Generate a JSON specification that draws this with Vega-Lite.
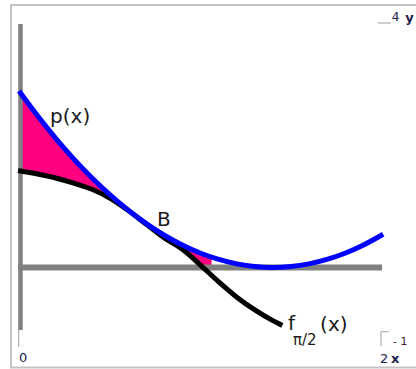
{
  "$schema": "https://vega.github.io/schema/vega-lite/v6.json",
  "width": 416,
  "height": 369,
  "autosize": "none",
  "padding": 0,
  "background": "white",
  "config": {"view": {"stroke": null}},
  "data": {"values": [{"note": "annotation"}]},
  "datasets": {
    "pdata": [
      {"x": 0.0, "p": 2.822}, {"x": 0.1, "p": 2.434}, {"x": 0.2, "p": 2.074}, {"x": 0.3, "p": 1.742},
      {"x": 0.4, "p": 1.44}, {"x": 0.5, "p": 1.166}, {"x": 0.6, "p": 0.922}, {"x": 0.7, "p": 0.706},
      {"x": 0.8, "p": 0.518}, {"x": 0.9, "p": 0.36}, {"x": 1.0, "p": 0.23}, {"x": 1.1, "p": 0.13},
      {"x": 1.2, "p": 0.058}, {"x": 1.3, "p": 0.0144}, {"x": 1.4, "p": 0.0}, {"x": 1.5, "p": 0.0144},
      {"x": 1.6, "p": 0.058}, {"x": 1.7, "p": 0.13}, {"x": 1.8, "p": 0.23}, {"x": 1.9, "p": 0.36},
      {"x": 2.0, "p": 0.518}
    ],
    "fdata": [
      {"x": 0.0, "f": 1.561}, {"x": 0.1, "f": 1.508}, {"x": 0.2, "f": 1.444}, {"x": 0.3, "f": 1.361},
      {"x": 0.4, "f": 1.262}, {"x": 0.5, "f": 1.116}, {"x": 0.6, "f": 0.918}, {"x": 0.7, "f": 0.695},
      {"x": 0.8, "f": 0.475}, {"x": 0.9, "f": 0.29}, {"x": 1.0, "f": 0.035}, {"x": 1.1, "f": -0.233},
      {"x": 1.2, "f": -0.48}, {"x": 1.3, "f": -0.686}, {"x": 1.4, "f": -0.86}, {"x": 1.44, "f": -0.92}
    ],
    "filldata": [
      {"x": 0.0, "top": 2.822, "bottom": 1.561}, {"x": 0.1, "top": 2.434, "bottom": 1.508},
      {"x": 0.2, "top": 2.074, "bottom": 1.444}, {"x": 0.3, "top": 1.742, "bottom": 1.361},
      {"x": 0.4, "top": 1.44, "bottom": 1.262}, {"x": 0.5, "top": 1.166, "bottom": 1.116},
      {"x": 0.6, "top": 0.922, "bottom": 0.918}, {"x": 0.7, "top": 0.706, "bottom": 0.695},
      {"x": 0.8, "top": 0.518, "bottom": 0.475}, {"x": 0.9, "top": 0.36, "bottom": 0.29},
      {"x": 1.0, "top": 0.23, "bottom": 0.035}, {"x": 1.06, "top": 0.166, "bottom": 0.0}
    ]
  },
  "layer": [
    {
      "mark": {"type": "rect", "fillOpacity": 0, "stroke": "#c4c4c4", "strokeWidth": 2},
      "encoding": {
        "x": {"datum": -0.0527, "type": "quantitative", "scale": {"domain": [-0.11373, 2.19417], "nice": false, "zero": false}, "axis": null},
        "x2": {"datum": 2.3},
        "y": {"datum": 4.248, "type": "quantitative", "scale": {"domain": [-1.64239, 4.32848], "nice": false, "zero": false}, "axis": null},
        "y2": {"datum": -1.618}
      }
    },
    {
      "data": {"name": "filldata"},
      "mark": {"type": "area", "color": "#ff0080", "interpolate": "monotone"},
      "encoding": {
        "x": {"field": "x", "type": "quantitative", "scale": {"domain": [-0.11373, 2.19417], "nice": false, "zero": false}, "axis": null},
        "y": {"field": "top", "type": "quantitative", "scale": {"domain": [-1.64239, 4.32848], "nice": false, "zero": false}, "axis": null},
        "y2": {"field": "bottom"}
      }
    },
    {
      "mark": {"type": "rule", "color": "#808080", "strokeWidth": 4.5},
      "encoding": {
        "x": {"datum": 0, "type": "quantitative", "scale": {"domain": [-0.11373, 2.19417], "nice": false, "zero": false}, "axis": null},
        "y": {"datum": 3.94, "type": "quantitative", "scale": {"domain": [-1.64239, 4.32848], "nice": false, "zero": false}, "axis": null},
        "y2": {"datum": -1.011}
      }
    },
    {
      "mark": {"type": "rule", "color": "#808080", "strokeWidth": 6},
      "encoding": {
        "x": {"datum": -0.014, "type": "quantitative", "scale": {"domain": [-0.11373, 2.19417], "nice": false, "zero": false}, "axis": null},
        "x2": {"datum": 2.006},
        "y": {"datum": 0, "type": "quantitative", "scale": {"domain": [-1.64239, 4.32848], "nice": false, "zero": false}, "axis": null}
      }
    },
    {
      "mark": {"type": "rule", "color": "#a0a0a0", "strokeWidth": 1},
      "encoding": {
        "x": {"datum": -0.01, "type": "quantitative", "scale": {"domain": [-0.11373, 2.19417], "nice": false, "zero": false}, "axis": null},
        "y": {"datum": -1.011, "type": "quantitative", "scale": {"domain": [-1.64239, 4.32848], "nice": false, "zero": false}, "axis": null},
        "y2": {"datum": -1.286}
      }
    },
    {
      "mark": {"type": "rule", "color": "#a0a0a0", "strokeWidth": 1},
      "encoding": {
        "x": {"datum": 2.0, "type": "quantitative", "scale": {"domain": [-0.11373, 2.19417], "nice": false, "zero": false}, "axis": null},
        "y": {"datum": -1.04, "type": "quantitative", "scale": {"domain": [-1.64239, 4.32848], "nice": false, "zero": false}, "axis": null},
        "y2": {"datum": -1.27}
      }
    },
    {
      "mark": {"type": "rule", "color": "#a0a0a0", "strokeWidth": 1},
      "encoding": {
        "x": {"datum": 2.0, "type": "quantitative", "scale": {"domain": [-0.11373, 2.19417], "nice": false, "zero": false}, "axis": null},
        "x2": {"datum": 2.044},
        "y": {"datum": -1.04, "type": "quantitative", "scale": {"domain": [-1.64239, 4.32848], "nice": false, "zero": false}, "axis": null}
      }
    },
    {
      "mark": {"type": "rule", "color": "#a0a0a0", "strokeWidth": 1},
      "encoding": {
        "x": {"datum": 1.983, "type": "quantitative", "scale": {"domain": [-0.11373, 2.19417], "nice": false, "zero": false}, "axis": null},
        "x2": {"datum": 2.055},
        "y": {"datum": 3.956, "type": "quantitative", "scale": {"domain": [-1.64239, 4.32848], "nice": false, "zero": false}, "axis": null}
      }
    },
    {
      "data": {"name": "fdata"},
      "mark": {"type": "line", "color": "#000000", "strokeWidth": 5, "strokeCap": "square", "interpolate": "monotone"},
      "encoding": {
        "x": {"field": "x", "type": "quantitative", "scale": {"domain": [-0.11373, 2.19417], "nice": false, "zero": false}, "axis": null},
        "y": {"field": "f", "type": "quantitative", "scale": {"domain": [-1.64239, 4.32848], "nice": false, "zero": false}, "axis": null}
      }
    },
    {
      "data": {"name": "pdata"},
      "mark": {"type": "line", "color": "#0000ff", "strokeWidth": 5, "strokeCap": "square", "interpolate": "monotone"},
      "encoding": {
        "x": {"field": "x", "type": "quantitative", "scale": {"domain": [-0.11373, 2.19417], "nice": false, "zero": false}, "axis": null},
        "y": {"field": "p", "type": "quantitative", "scale": {"domain": [-1.64239, 4.32848], "nice": false, "zero": false}, "axis": null}
      }
    },
    {
      "mark": {"type": "text", "text": "p(x)", "font": "DejaVu Sans", "fontSize": 20, "color": "#1a1a1a", "align": "left", "baseline": "alphabetic"},
      "encoding": {
        "x": {"datum": 0.164, "type": "quantitative", "scale": {"domain": [-0.11373, 2.19417], "nice": false, "zero": false}, "axis": null},
        "y": {"datum": 2.338, "type": "quantitative", "scale": {"domain": [-1.64239, 4.32848], "nice": false, "zero": false}, "axis": null}
      }
    },
    {
      "mark": {"type": "text", "text": "B", "font": "DejaVu Sans", "fontSize": 20, "color": "#1a1a1a", "align": "left", "baseline": "alphabetic"},
      "encoding": {
        "x": {"datum": 0.757, "type": "quantitative", "scale": {"domain": [-0.11373, 2.19417], "nice": false, "zero": false}, "axis": null},
        "y": {"datum": 0.672, "type": "quantitative", "scale": {"domain": [-1.64239, 4.32848], "nice": false, "zero": false}, "axis": null}
      }
    },
    {
      "mark": {"type": "text", "text": "f", "font": "DejaVu Sans", "fontSize": 20, "color": "#1a1a1a", "align": "left", "baseline": "alphabetic"},
      "encoding": {
        "x": {"datum": 1.484, "type": "quantitative", "scale": {"domain": [-0.11373, 2.19417], "nice": false, "zero": false}, "axis": null},
        "y": {"datum": -1.011, "type": "quantitative", "scale": {"domain": [-1.64239, 4.32848], "nice": false, "zero": false}, "axis": null}
      }
    },
    {
      "mark": {"type": "text", "text": "π/2", "font": "DejaVu Sans", "fontSize": 15, "color": "#1a1a1a", "align": "left", "baseline": "alphabetic"},
      "encoding": {
        "x": {"datum": 1.512, "type": "quantitative", "scale": {"domain": [-0.11373, 2.19417], "nice": false, "zero": false}, "axis": null},
        "y": {"datum": -1.254, "type": "quantitative", "scale": {"domain": [-1.64239, 4.32848], "nice": false, "zero": false}, "axis": null}
      }
    },
    {
      "mark": {"type": "text", "text": "(x)", "font": "DejaVu Sans", "fontSize": 20, "color": "#1a1a1a", "align": "left", "baseline": "alphabetic"},
      "encoding": {
        "x": {"datum": 1.662, "type": "quantitative", "scale": {"domain": [-0.11373, 2.19417], "nice": false, "zero": false}, "axis": null},
        "y": {"datum": -1.027, "type": "quantitative", "scale": {"domain": [-1.64239, 4.32848], "nice": false, "zero": false}, "axis": null}
      }
    },
    {
      "mark": {"type": "text", "text": "0", "font": "DejaVu Sans", "fontSize": 13, "color": "#20204a", "align": "left", "baseline": "alphabetic"},
      "encoding": {
        "x": {"datum": -0.008, "type": "quantitative", "scale": {"domain": [-0.11373, 2.19417], "nice": false, "zero": false}, "axis": null},
        "y": {"datum": -1.529, "type": "quantitative", "scale": {"domain": [-1.64239, 4.32848], "nice": false, "zero": false}, "axis": null}
      }
    },
    {
      "mark": {"type": "text", "text": "2", "font": "DejaVu Sans", "fontSize": 13, "color": "#20204a", "align": "left", "baseline": "alphabetic"},
      "encoding": {
        "x": {"datum": 1.994, "type": "quantitative", "scale": {"domain": [-0.11373, 2.19417], "nice": false, "zero": false}, "axis": null},
        "y": {"datum": -1.545, "type": "quantitative", "scale": {"domain": [-1.64239, 4.32848], "nice": false, "zero": false}, "axis": null}
      }
    },
    {
      "mark": {"type": "text", "text": "x", "font": "DejaVu Sans", "fontSize": 13, "fontWeight": "bold", "color": "#20204a", "align": "left", "baseline": "alphabetic"},
      "encoding": {
        "x": {"datum": 2.055, "type": "quantitative", "scale": {"domain": [-0.11373, 2.19417], "nice": false, "zero": false}, "axis": null},
        "y": {"datum": -1.545, "type": "quantitative", "scale": {"domain": [-1.64239, 4.32848], "nice": false, "zero": false}, "axis": null}
      }
    },
    {
      "mark": {"type": "text", "text": "- 1", "font": "DejaVu Sans", "fontSize": 11, "color": "#4a1a2a", "align": "left", "baseline": "alphabetic"},
      "encoding": {
        "x": {"datum": 2.067, "type": "quantitative", "scale": {"domain": [-0.11373, 2.19417], "nice": false, "zero": false}, "axis": null},
        "y": {"datum": -1.254, "type": "quantitative", "scale": {"domain": [-1.64239, 4.32848], "nice": false, "zero": false}, "axis": null}
      }
    },
    {
      "mark": {"type": "text", "text": "4", "font": "DejaVu Sans", "fontSize": 12, "color": "#20204a", "align": "left", "baseline": "alphabetic"},
      "encoding": {
        "x": {"datum": 2.06, "type": "quantitative", "scale": {"domain": [-0.11373, 2.19417], "nice": false, "zero": false}, "axis": null},
        "y": {"datum": 3.989, "type": "quantitative", "scale": {"domain": [-1.64239, 4.32848], "nice": false, "zero": false}, "axis": null}
      }
    },
    {
      "mark": {"type": "text", "text": "y", "font": "DejaVu Sans", "fontSize": 13, "fontWeight": "bold", "color": "#20204a", "align": "left", "baseline": "alphabetic"},
      "encoding": {
        "x": {"datum": 2.135, "type": "quantitative", "scale": {"domain": [-0.11373, 2.19417], "nice": false, "zero": false}, "axis": null},
        "y": {"datum": 3.972, "type": "quantitative", "scale": {"domain": [-1.64239, 4.32848], "nice": false, "zero": false}, "axis": null}
      }
    }
  ]
}
